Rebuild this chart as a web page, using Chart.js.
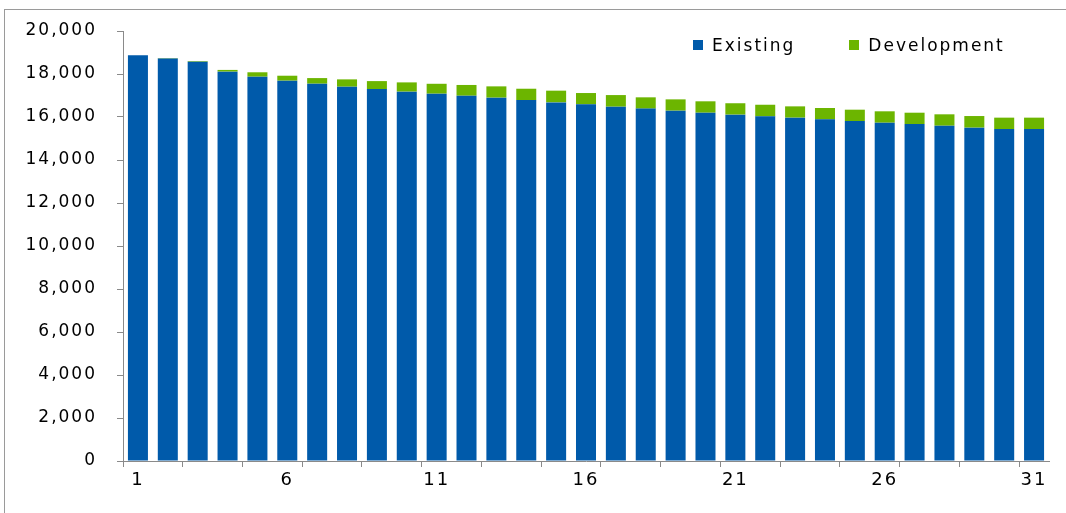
<!DOCTYPE html>
<html>
<head>
<meta charset="utf-8">
<script src="https://cdn.jsdelivr.net/npm/chart.js@4/dist/chart.umd.min.js"></script>
<style>
    html, body { margin: 0; padding: 0; background: #fff; }
    #wrap { position: relative; width: 1066px; height: 513px; overflow: hidden; }
    #frame { position: absolute; left: 4px; top: 9px; width: 1100px; height: 600px;
             border-left: 1px solid #9a9a9a; border-top: 1px solid #9a9a9a; }
    #chart { position: absolute; left: 0; top: 0; }
    #legend { position: absolute; top: 35px; left: 693px; display: flex;
              font-family: "DejaVu Sans", sans-serif; font-size: 17px; letter-spacing: 2px; color: #000; }
    #legend .item { display: flex; align-items: center; margin-right: 54px; }
    #legend .item:last-child { margin-right: 0; }
    #legend .swatch { width: 10px; height: 10px; margin-right: 9px; }
</style>
</head>
<body>
<div id="wrap">
    <div id="frame"></div>
    <canvas id="chart" width="1066" height="513"></canvas>
    <div id="legend"></div>
</div>
<script>
// Data
const categories = ['1', '2', '3', '4', '5', '6', '7', '8', '9', '10', '11', '12', '13', '14', '15', '16',
    '17', '18', '19', '20', '21', '22', '23', '24', '25', '26', '27', '28', '29', '30', '31'];

const existing = [18870, 18720, 18570, 18110, 17875, 17690, 17550, 17410, 17300, 17180, 17085,
    16990, 16900, 16790, 16680, 16590, 16480, 16390, 16295, 16200, 16110, 16030, 15970, 15890,
    15815, 15735, 15675, 15595, 15505, 15440, 15440];

const development = [0, 20, 30, 80, 205, 230, 260, 340, 370, 430, 460, 500, 525, 525, 545, 525,
    540, 525, 525, 530, 530, 540, 525, 530, 525, 530, 525, 530, 540, 530, 530];

const yTicks = [0, 2000, 4000, 6000, 8000, 10000, 12000, 14000, 16000, 18000, 20000];
const xLabelStep = 5;   // a label on every 5th category
const xTickStep = 2;    // a tick mark on every 2nd category boundary

(() => {
    const AXIS_GREY = '#8a8a8a';

    const ChartPage = {
        chart: null,

        init() {
            this.buildChart();
            this.renderLegend();
        },

        buildChart() {
            const ctx = document.getElementById('chart');

            // stretch the canvas text a little, like the wide fonts of the original
            const spacing = {
                id: 'letterSpacing',
                beforeLayout(chart) { chart.ctx.letterSpacing = '2px'; },
                beforeDraw(chart) { chart.ctx.letterSpacing = '2px'; }
            };

            this.chart = new Chart(ctx, {
                type: 'bar',
                data: {
                    labels: categories,
                    datasets: [
                        { label: 'Existing', data: existing, backgroundColor: '#005aaa' },
                        { label: 'Development', data: development, backgroundColor: '#6cb500' }
                    ]
                },
                options: {
                    responsive: false,
                    devicePixelRatio: 1,
                    animation: false,
                    datasets: {
                        bar: { categoryPercentage: 1, barPercentage: 0.67 }
                    },
                    layout: {
                        padding: { left: 0, right: 17, top: 31, bottom: 0 }
                    },
                    plugins: {
                        legend: { display: false },
                        tooltip: { enabled: false }
                    },
                    scales: {
                        x: {
                            stacked: true,
                            offset: true,
                            grid: {
                                offset: true,
                                drawOnChartArea: false,
                                drawTicks: true,
                                tickLength: 6,
                                tickColor: (c) => (c.index !== undefined && c.index % xTickStep === 0) ? AXIS_GREY : 'rgba(0,0,0,0)'
                            },
                            border: { display: true, color: AXIS_GREY, width: 1 },
                            ticks: {
                                autoSkip: false,
                                maxRotation: 0,
                                padding: 3,
                                color: '#000',
                                font: { family: 'DejaVu Sans', size: 18 },
                                callback: (value, index) => index % xLabelStep === 0 ? categories[index] : ''
                            },
                            afterFit(scale) { scale.height = 52; }
                        },
                        y: {
                            stacked: true,
                            min: 0,
                            max: 20000,
                            grid: {
                                drawOnChartArea: false,
                                drawTicks: true,
                                tickLength: 6,
                                tickColor: AXIS_GREY
                            },
                            border: { display: true, color: AXIS_GREY, width: 1 },
                            afterBuildTicks(scale) {
                                scale.ticks = yTicks.map(v => ({ value: v }));
                            },
                            ticks: {
                                padding: 20,
                                color: '#000',
                                font: { family: 'DejaVu Sans', size: 17 },
                                callback: (value) => value.toLocaleString('en-US')
                            },
                            afterFit(scale) { scale.width = 123; }
                        }
                    }
                },
                plugins: [spacing]
            });
        },

        renderLegend() {
            const container = document.getElementById('legend');
            if (!container || !this.chart) return;

            container.innerHTML = this.chart.data.datasets.map(ds => `
                <div class="item">
                    <span class="swatch" style="background:${ds.backgroundColor}"></span>
                    <span>${ds.label}</span>
                </div>
            `).join('');
        }
    };

    ChartPage.init();
})();
</script>
</body>
</html>
